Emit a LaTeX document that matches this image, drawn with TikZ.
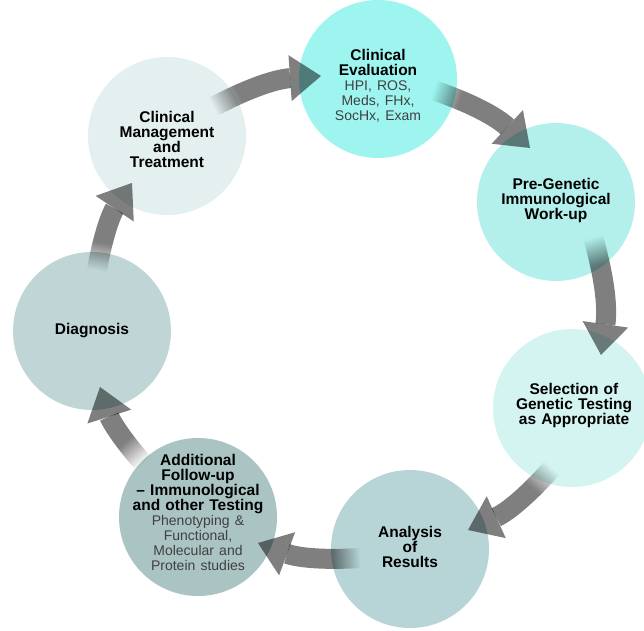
\documentclass[tikz,border=0pt]{standalone}
\usepackage{fontspec}
\setmainfont{Liberation Sans}
\usetikzlibrary{arrows.meta,fadings}

\definecolor{evalfill}{HTML}{9EF5F0}
\definecolor{pregenfill}{HTML}{B3F0EC}
\definecolor{selectfill}{HTML}{D3F4F0}
\definecolor{analysisfill}{HTML}{B7D4D6}
\definecolor{followfill}{HTML}{A9C4C2}
\definecolor{diagfill}{HTML}{C0D5D5}
\definecolor{mgmtfill}{HTML}{E4EFF0}
\definecolor{detailgray}{HTML}{404040}

\pgfdeclarehorizontalshading{tailshade}{400bp}{color(0bp)=(pgftransparent!100); color(200bp)=(pgftransparent!100); color(228bp)=(pgftransparent!0); color(400bp)=(pgftransparent!0)}
\pgfdeclarefading{tailfade}{\pgfuseshading{tailshade}}

\newcommand{\detail}[1]{{\mdseries\fontsize{14}{15}\selectfont\color{detailgray}#1}}

\tikzset{
  stage/.style={circle, minimum size=158pt, inner sep=0pt, draw=none},
  caption/.style={align=center, text width=150pt, inner sep=0pt, font=\fontsize{15.5}{15}\selectfont\bfseries},
  flow/.style 2 args={line width=20pt, draw=black, opacity=0.5,
    -{Triangle[width=46pt,length=31pt,line width=0pt]},
    path fading=tailfade, fit fading=false, fading transform={shift={#1}, rotate=#2}}
}

\begin{document}
\begin{tikzpicture}[x=1pt,y=1pt]
\useasboundingbox (0,0) rectangle (644,630);

\node[stage, fill=evalfill] (eval) at (378,551) {};
\node[stage, fill=pregenfill] (pregen) at (556,428) {};
\node[stage, fill=selectfill] (select) at (572,222) {};
\node[stage, fill=analysisfill] (analysis) at (410,81) {};
\node[stage, fill=followfill] (follow) at (198,113) {};
\node[stage, fill=diagfill] (diag) at (92,299) {};
\node[stage, fill=mgmtfill] (mgmt) at (167,494) {};

\coordinate (eval-out) at ([shift={(55,-11)}]eval.center);
\coordinate (pregen-in) at ([shift={(-26,54)}]pregen.center);
\coordinate (pregen-out) at ([shift={(37,-35)}]pregen.center);
\coordinate (select-in) at ([shift={(29,53)}]select.center);
\coordinate (select-out) at ([shift={(-20,-60)}]select.center);
\coordinate (analysis-in) at ([shift={(58,19)}]analysis.center);
\coordinate (analysis-out) at ([shift={(-50,-9)}]analysis.center);
\coordinate (follow-in) at ([shift={(60,-26)}]follow.center);
\coordinate (follow-out) at ([shift={(-55,54)}]follow.center);
\coordinate (diag-in) at ([shift={(8,-56)}]diag.center);
\coordinate (diag-out) at ([shift={(5,61)}]diag.center);
\coordinate (mgmt-in) at ([shift={(-35,-47)}]mgmt.center);
\coordinate (mgmt-out) at ([shift={(46,29)}]mgmt.center);
\coordinate (eval-in) at ([shift={(-57,3)}]eval.center);

\foreach \a/\b/\ang in {mgmt/eval/28, eval/pregen/-19, pregen/select/-74, select/analysis/228,
                        analysis/follow/184, follow/diag/131, diag/mgmt/80}
{
    \draw[flow={(\a-out)}{\ang}] (\a-out) to[bend left=12] (\b-in);
}

\node[caption] (eval-text) at (378,544) {Clinical\\Evaluation\\\detail{HPI, ROS,\\Meds, FHx,\\SocHx, Exam}};
\node[caption] (mgmt-text) at (167,491) {Clinical\\Management\\and\\Treatment};
\node[caption] (pregen-text) at (556,430) {Pre-Genetic\\Immunological\\Work-up};
\node[caption] (select-text) at (574,225) {Selection of\\Genetic Testing\\as Appropriate};
\node[caption] (analysis-text) at (410,83) {Analysis\\of\\Results};
\node[caption] (follow-text) at (198,118) {Additional\\Follow-up\\-- Immunological\\and other Testing\\\detail{Phenotyping \&\\Functional,\\Molecular and\\Protein studies}};
\node[caption] (diag-text) at (92,299) {Diagnosis};
\end{tikzpicture}
\end{document}
